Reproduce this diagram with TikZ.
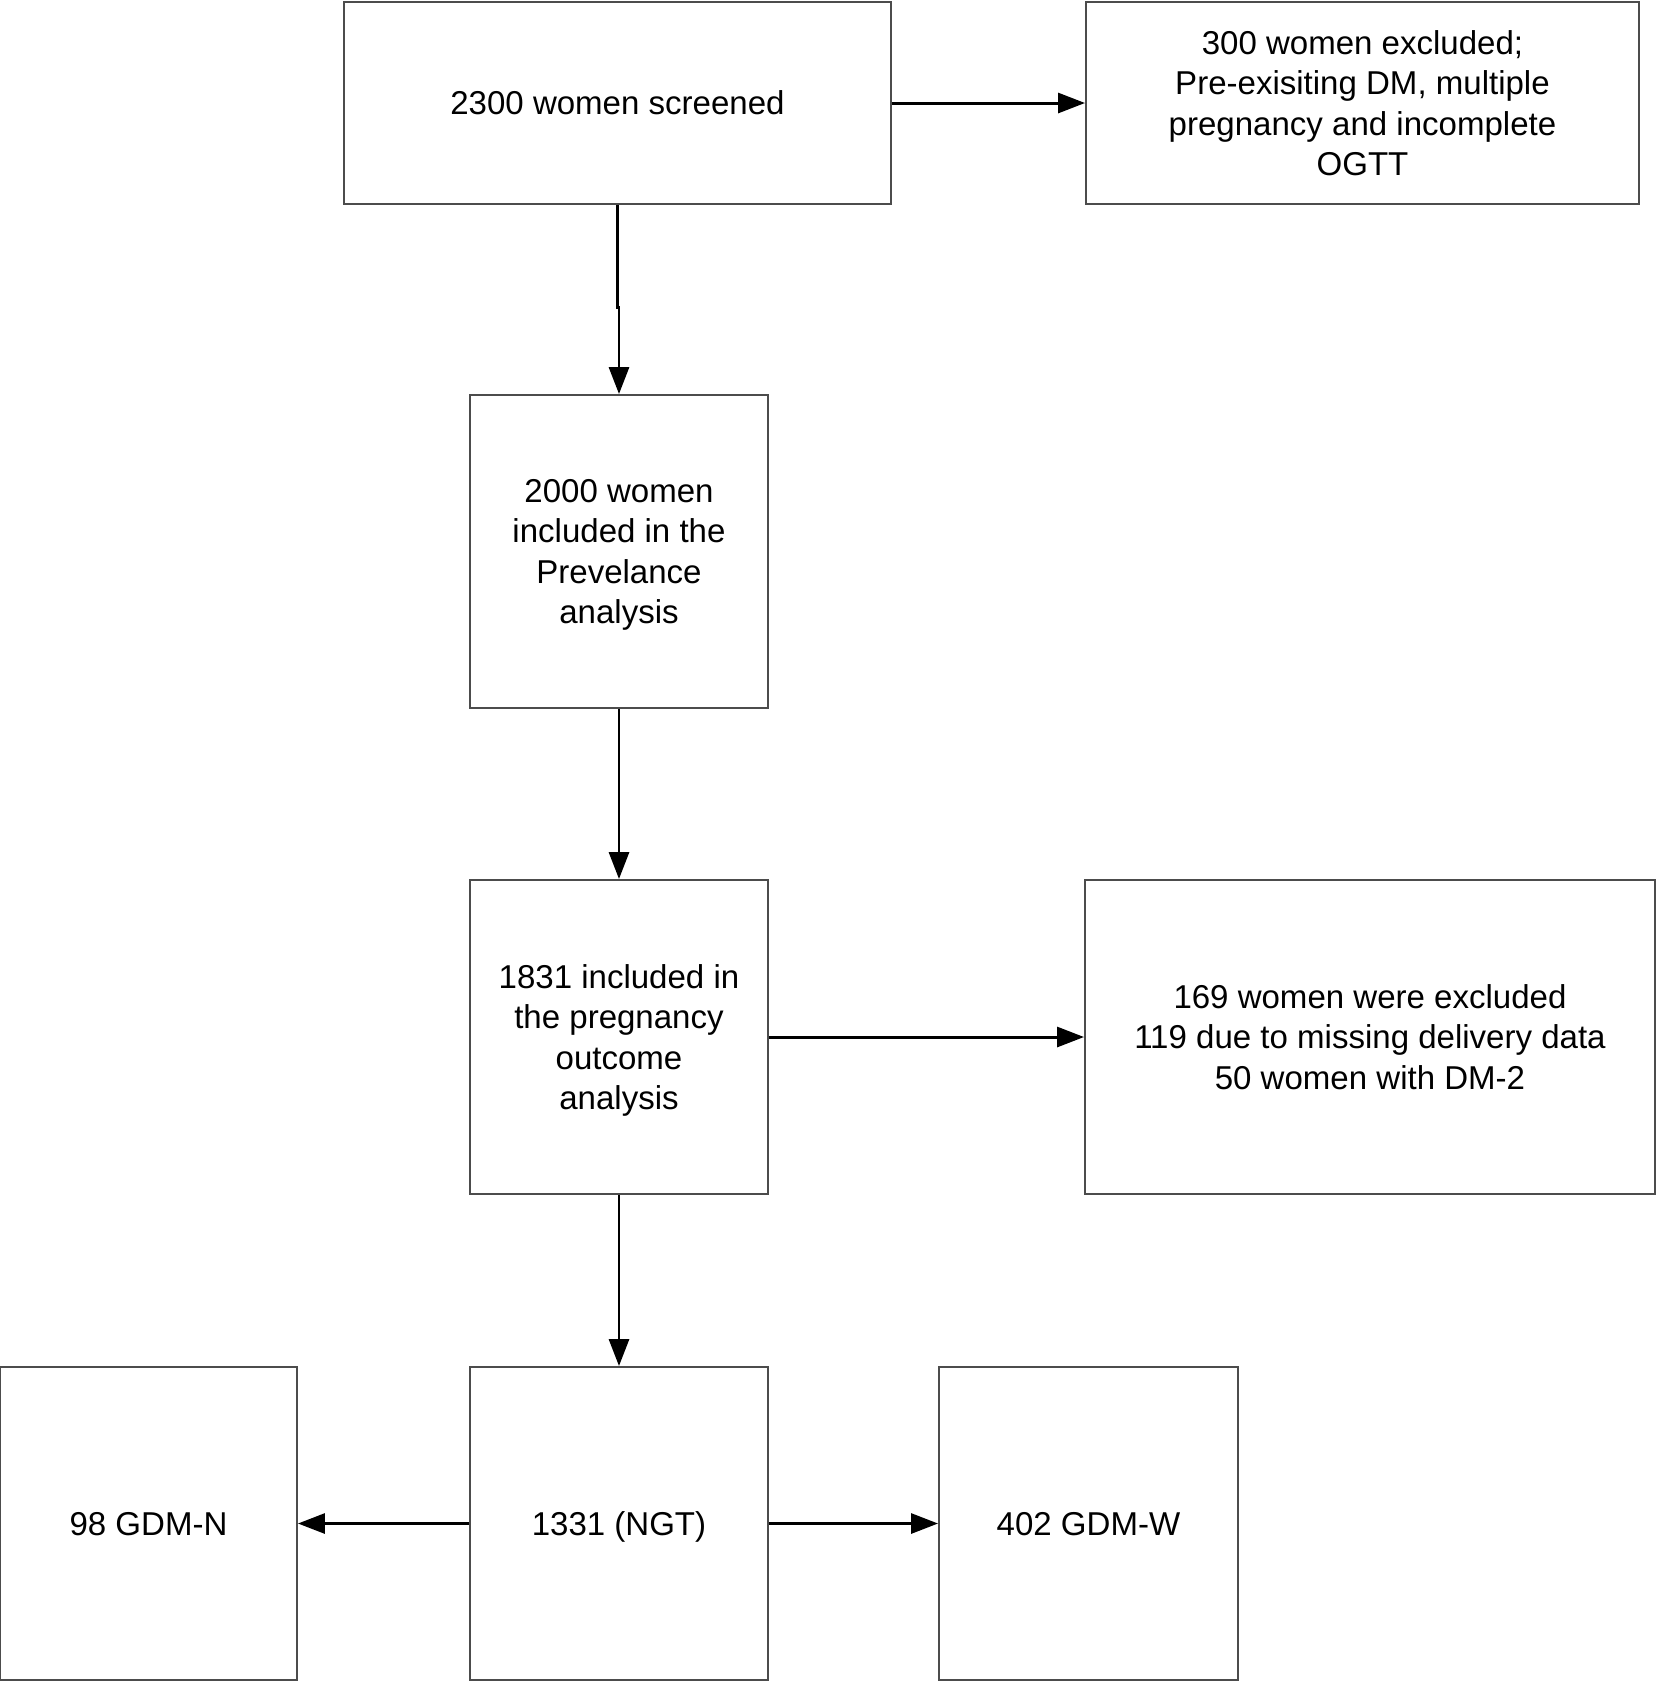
\documentclass[tikz,border=0pt]{standalone}
\usepackage{fontspec}
\setmainfont{Liberation Sans}
\usetikzlibrary{arrows.meta}
\tikzset{
  box/.style={draw=black!70, line width=0.55pt, align=center, inner sep=0pt, text depth=0pt,
    font=\fontsize{9.4}{11.5}\selectfont},
  arr/.style={draw=black, line width=0.85pt, -{Triangle[length=0.27cm,width=0.2cm]}}
}
\begin{document}
\begin{tikzpicture}
                \useasboundingbox (0,0) rectangle (16.56,-16.82);

                \node [box, minimum width=5.47cm, minimum height=2.02cm] (screen) at (6.175,-1.03) {2300 women screened};
                \node [box, minimum width=5.53cm, minimum height=2.02cm] (excla) at (13.625,-1.03)
                    {300 women excluded;\\Pre-exisiting DM, multiple\\pregnancy and incomplete\\OGTT};
                \node [box, minimum width=2.98cm, minimum height=3.13cm, text depth=-2.6pt] (prev) at (6.19,-5.515)
                    {2000 women\\included in the\\Prevelance\\analysis};
                \node [box, minimum width=2.98cm, minimum height=3.14cm, text depth=-2.6pt] (outc) at (6.19,-10.37)
                    {1831 included in\\the pregnancy\\outcome\\analysis};
                \node [box, minimum width=5.70cm, minimum height=3.14cm] (exclb) at (13.70,-10.37)
                    {169 women were excluded\\119 due to missing delivery data\\50 women with DM-2};

                \node [box, minimum width=2.98cm, minimum height=3.13cm] (ngt) at (6.19,-15.235) {1331 (NGT)};
                \node [box, minimum width=2.97cm, minimum height=3.13cm] (gdmn) at (1.485,-15.235) {98 GDM-N};
                \node [box, minimum width=2.99cm, minimum height=3.13cm] (gdmw) at (10.885,-15.235) {402 GDM-W};

                \draw [arr] (screen.east) -- (excla.west);
                \draw [arr] (screen.south) -- ++(0,-1.03) -| (prev.north);
                \draw [arr] (prev.south) -- (outc.north);
                \draw [arr] (outc.east) -- (exclb.west);
                \draw [arr] (outc.south) -- (ngt.north);
                \draw [arr] (ngt.west) -- (gdmn.east);
                \draw [arr] (ngt.east) -- (gdmw.west);
            \end{tikzpicture}
\end{document}
